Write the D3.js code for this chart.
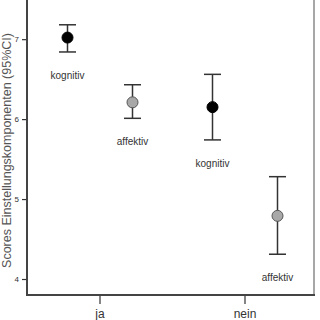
<!DOCTYPE html>
<html>
<head>
<meta charset="utf-8">
<script src="https://cdn.jsdelivr.net/npm/d3@7"></script>
<style>
body{margin:0;background:#fff;}
svg{display:block;font-family:"Liberation Sans",Arial,sans-serif;}
</style>
</head>
<body>
<svg id="chart" width="320" height="320"></svg>
<script>
// groups on the x axis and the components within each group
var groups = ["ja", "nein"];
var components = ["kognitiv", "affektiv"];
var means = [7.02, 6.21, 6.15, 4.79];
var lower = [6.84, 6.01, 5.74, 4.31];
var upper = [7.18, 6.43, 6.56, 5.28];
var yTicks = [4, 5, 6, 7];

var svg = d3.select("#chart");
var pLeft = 27, pRight = 314, pTop = 0, pBottom = 295;

var y = d3.scaleLinear().domain([3.8, 7.49]).range([pBottom, pTop]);
var x = d3.scaleBand().domain(groups).range([pLeft + 0.5, pLeft + 290.5]);
var sub = d3.scalePoint().domain(components).range([-32.5, 32.5]);

var pts = [];
for (var i = 0; i < means.length; i++) {
    var g = groups[Math.floor(i / 2)], c = components[i % 2];
    pts.push({g: g, c: c, m: means[i], lo: lower[i], hi: upper[i],
        x: x(g) + x.bandwidth() / 2 + sub(c)});
}

// frame
svg.append("line").attr("x1", pRight).attr("x2", pRight).attr("y1", pTop).attr("y2", pBottom)
    .attr("stroke", "#8a8a8a").attr("stroke-width", 1.5);

// y axis
var yAxis = svg.append("g").attr("transform", "translate(" + pLeft + ",0)")
    .call(d3.axisLeft(y).tickValues(yTicks).tickSize(5).tickPadding(3).tickFormat(d3.format("d")));
yAxis.select(".domain").remove();
yAxis.selectAll("line").attr("stroke", "#333").attr("stroke-width", 1.2);
yAxis.selectAll("text").attr("font-size", 8).attr("fill", "#333");
svg.append("line").attr("x1", pLeft).attr("x2", pLeft).attr("y1", pTop).attr("y2", pBottom + 1)
    .attr("stroke", "#444").attr("stroke-width", 2);

// x axis
var xAxis = svg.append("g").attr("transform", "translate(0," + pBottom + ")")
    .call(d3.axisBottom(x).tickSize(9).tickPadding(5));
xAxis.select(".domain").remove();
xAxis.selectAll("line").attr("stroke", "#333").attr("stroke-width", 1.2);
xAxis.selectAll("text").attr("font-size", 12).attr("fill", "#333");
svg.append("line").attr("x1", pLeft - 1).attr("x2", pRight + 1).attr("y1", pBottom).attr("y2", pBottom)
    .attr("stroke", "#444").attr("stroke-width", 2);

// y title
svg.append("text")
    .attr("transform", "translate(8," + ((pTop + pBottom) / 2 + 3) + ") rotate(-90)")
    .attr("text-anchor", "middle").attr("dominant-baseline", "middle")
    .attr("font-size", 12.5).attr("fill", "#555")
    .text("Scores Einstellungskomponenten (95%CI)");

// error bars
var bars = svg.selectAll("g.bar").data(pts).enter().append("g").attr("class", "bar");
bars.append("line")
    .attr("x1", function (d) { return d.x; }).attr("x2", function (d) { return d.x; })
    .attr("y1", function (d) { return y(d.hi); }).attr("y2", function (d) { return y(d.lo); })
    .attr("stroke", "#333").attr("stroke-width", 1.5);
bars.append("line")
    .attr("x1", function (d) { return d.x - 8.5; }).attr("x2", function (d) { return d.x + 8.5; })
    .attr("y1", function (d) { return y(d.hi); }).attr("y2", function (d) { return y(d.hi); })
    .attr("stroke", "#333").attr("stroke-width", 1.5);
bars.append("line")
    .attr("x1", function (d) { return d.x - 8.5; }).attr("x2", function (d) { return d.x + 8.5; })
    .attr("y1", function (d) { return y(d.lo); }).attr("y2", function (d) { return y(d.lo); })
    .attr("stroke", "#333").attr("stroke-width", 1.5);
bars.append("circle")
    .attr("cx", function (d) { return d.x; }).attr("cy", function (d) { return y(d.m); })
    .attr("r", 5.5)
    .attr("fill", function (d) { return d.c == "kognitiv" ? "#000" : "#a8a8a8"; })
    .attr("stroke", function (d) { return d.c == "kognitiv" ? "#000" : "#555"; })
    .attr("stroke-width", 1);
bars.append("text")
    .attr("x", function (d) { return d.x; }).attr("y", function (d) { return y(d.lo) + 24; })
    .attr("text-anchor", "middle").attr("dominant-baseline", "middle")
    .attr("font-size", 10).attr("fill", "#333")
    .text(function (d) { return d.c; });
</script>
</body>
</html>
